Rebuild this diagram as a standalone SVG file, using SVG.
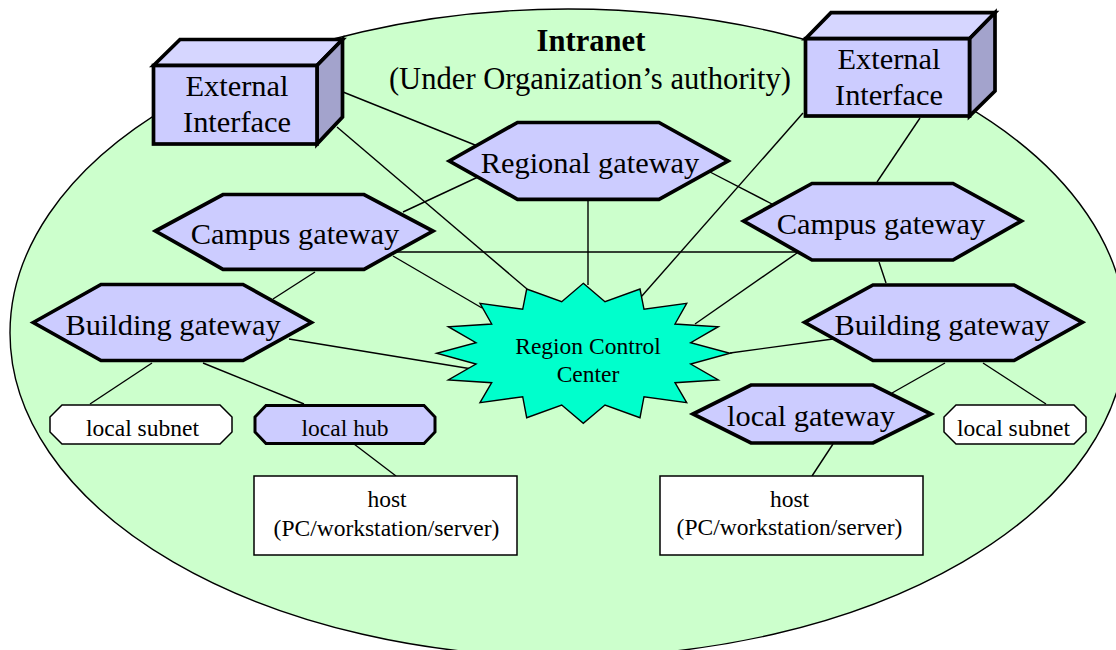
<svg xmlns="http://www.w3.org/2000/svg" width="1116" height="650" viewBox="0 0 1116 650">
<style>
text{font-family:"Liberation Serif","Times New Roman",serif;fill:#000;text-anchor:middle}
.xl{font-size:30.6px}
.lg{font-size:30.4px}
.sm{font-size:23.5px}
.hex{fill:#ccf;stroke:#000;stroke-width:3.7}
.f{fill:#ccf;stroke:#000;stroke-width:3.7}
.t{fill:#d6d6ff;stroke:#000;stroke-width:3.7}
.s{fill:#a3a3cc;stroke:#000;stroke-width:3.7}
.w{fill:#fff;stroke:#000;stroke-width:1.5}
#connectors line{stroke:#000;stroke-width:1.4}
</style>
<rect width="1116" height="650" fill="#fff"/>
<ellipse id="intranet" cx="568" cy="333" rx="558" ry="324" fill="#cfc" stroke="#000" stroke-width="1.4"/>
<text class="xl" x="591" y="51" font-weight="bold">Intranet</text>
<text class="xl" x="590" y="89">(Under Organization’s authority)</text>
<g id="connectors">
<line x1="343" y1="92" x2="480" y2="147"/>
<line x1="337" y1="127" x2="527" y2="289"/>
<line x1="803" y1="113" x2="641" y2="297"/>
<line x1="920" y1="118" x2="877" y2="182"/>
<line x1="588" y1="199" x2="588" y2="285"/>
<line x1="478" y1="177" x2="403" y2="212"/>
<line x1="710" y1="172" x2="772" y2="204"/>
<line x1="395" y1="252" x2="797" y2="252"/>
<line x1="393" y1="256" x2="482" y2="308"/>
<line x1="797" y1="253" x2="695" y2="324"/>
<line x1="879" y1="262" x2="886" y2="283"/>
<line x1="315" y1="272" x2="273" y2="299"/>
<line x1="289" y1="339" x2="472" y2="369"/>
<line x1="730" y1="353" x2="833" y2="339"/>
<line x1="152" y1="363" x2="90" y2="404"/>
<line x1="203" y1="363" x2="304" y2="404"/>
<line x1="354" y1="444" x2="396" y2="476"/>
<line x1="945" y1="363" x2="892" y2="393"/>
<line x1="983" y1="363" x2="1046" y2="404"/>
<line x1="833" y1="444" x2="812" y2="476"/>
</g>
<g id="ext-left">
<polygon class="t" points="153.5,65.500 180,39.500 342.500,39.500 317,65.500"/>
<polygon class="s" points="317,65.500 342.500,39.500 342.500,117 317,144"/>
<rect class="f" x="153.500" y="65.500" width="163.500" height="78.500"/>
<text class="lg" x="237" y="96">External</text>
<text class="lg" x="237" y="132">Interface</text>
</g>
<g id="ext-right">
<polygon class="t" points="805.500,38.700 831,12.700 995,12.700 969.500,38.700"/>
<polygon class="s" points="969.500,38.700 995,12.700 995,91 969.500,116"/>
<rect class="f" x="805.500" y="38.700" width="164" height="77.300"/>
<text class="lg" x="889" y="69">External</text>
<text class="lg" x="889" y="105">Interface</text>
</g>
<g id="regional-gateway">
<polygon class="hex" points="449.300,161 517.500,122.500 659,122.500 728,161 659,199.300 517.500,199.300"/>
<text class="lg" x="590" y="173">Regional gateway</text>
</g>
<g id="campus-left">
<polygon class="hex" points="155.500,231 223,194.500 364,194.500 433,231 364,269.300 223,269.300"/>
<text class="lg" x="295" y="244">Campus gateway</text>
</g>
<g id="campus-right">
<polygon class="hex" points="743.600,221 812,183.500 953,183.500 1021.400,221 953,260 812,260"/>
<text class="lg" x="881" y="234">Campus gateway</text>
</g>
<g id="building-left">
<polygon class="hex" points="33.300,322.500 101,284.500 243,284.500 311.400,322.500 243,360.500 101,360.500"/>
<text class="lg" x="173" y="335">Building gateway</text>
</g>
<g id="building-right">
<polygon class="hex" points="804.600,322.300 873,285 1014,285 1082.400,322.300 1014,360.500 873,360.500"/>
<text class="lg" x="942" y="335">Building gateway</text>
</g>
<g id="local-gateway">
<polygon class="hex" points="693,414 751,385 873,385 931,414 873,443 751,443"/>
<text class="lg" x="811" y="426">local gateway</text>
</g>
<g id="region-control-center">
<polygon points="583.3,283.3 605,301.7 640,289 644,309.3 686.7,303.3 675,324 718.3,326.7 690.7,342.7 730,353.3 690.7,364 718.3,380 675,382.7 686.7,402.7 644,396.7 640,417.7 605,405 583.3,423.3 561.7,405 526.7,417.7 522.7,396.7 480,402.7 491.7,382.7 448.3,380 476,364 436.7,353.3 476,342.7 448.3,326.7 491.7,324 480,303.3 522.7,309.3 526.7,289 561.7,301.7" fill="#0fc" stroke="#000" stroke-width="1.4"/>
<text class="sm" x="588" y="354">Region Control</text>
<text class="sm" x="588" y="382">Center</text>
</g>
<g id="subnet-left">
<polygon class="w" points="62,405 220,405 232,417 232,432 220,444 62,444 50,432 50,417"/>
<text class="sm" x="142.500" y="436">local subnet</text>
</g>
<g id="local-hub">
<polygon class="hex" points="266,405.500 424,405.500 435,417 435,432 424,443.500 266,443.500 255,432 255,417" style="stroke-width:3"/>
<text class="sm" x="345" y="436">local hub</text>
</g>
<g id="subnet-right">
<polygon class="w" points="956,405 1074,405 1086,417 1086,432 1074,444 956,444 944,432 944,417"/>
<text class="sm" x="1013.500" y="436">local subnet</text>
</g>
<g id="host-left">
<rect class="w" x="254" y="476" width="263" height="79"/>
<text class="sm" x="387" y="507">host</text>
<text class="sm" x="386.500" y="536">(PC/workstation/server)</text>
</g>
<g id="host-right">
<rect class="w" x="660" y="476" width="263" height="79"/>
<text class="sm" x="789.500" y="507">host</text>
<text class="sm" x="789.500" y="535">(PC/workstation/server)</text>
</g>
</svg>
